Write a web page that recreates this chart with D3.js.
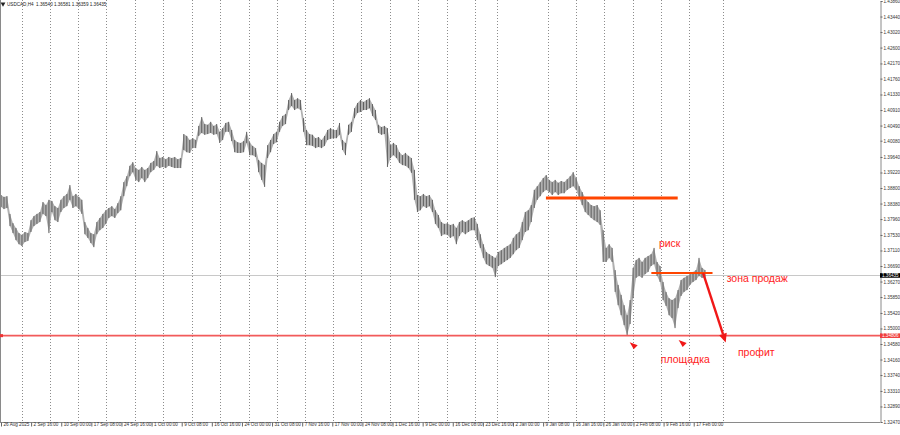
<!DOCTYPE html>
<html><head><meta charset="utf-8">
<script src="https://cdn.jsdelivr.net/npm/d3@7"></script>
<style>
html,body{margin:0;padding:0;background:#fff;}
svg{display:block;}
</style>
</head><body>
<svg id="c" width="900" height="435"></svg>
<script>
// ---------- DATA ----------
const symbolTitle = "USDCAD,H4  1.36540 1.36581 1.36359 1.36435";
const priceTicks = [1.43860,1.43440,1.43020,1.42600,1.42170,1.41760,1.41330,1.40910,1.40490,1.40080,
  1.39640,1.39220,1.38800,1.38380,1.37960,1.37530,1.37110,1.36690,1.36270,1.35850,1.35420,1.35000,
  1.34580,1.34160,1.33740,1.33310,1.32890,1.32470];
const dateLabels = ["26 Aug 2025","2 Sep 16:00","10 Sep 00:00","17 Sep 08:00","24 Sep 16:00","1 Oct 00:00",
  "9 Oct 08:00","16 Oct 16:00","24 Oct 00:00","31 Oct 08:00","7 Nov 16:00","17 Nov 00:00","24 Nov 08:00",
  "1 Dec 16:00","9 Dec 00:00","16 Dec 08:00","23 Dec 16:00","2 Jan 00:00","9 Jan 08:00","16 Jan 16:00",
  "26 Jan 00:00","2 Feb 08:00","9 Feb 16:00","17 Feb 00:00"];
const barsPerLabel = 32;
const weekBars = [22,52,82,112,142,172,203,233,263,293,323,353,383,413,443,474,504,527,581,611,641,671,701,731,767];
const lastBar = 748;
const currentPrice = 1.36435;
const targetPrice = 1.34806;

const highs = [
1.3861,1.3856,1.3858,1.3810,1.3785,1.3772,1.3758,1.3753,1.3761,1.3758,
1.3793,1.3804,1.3810,1.3815,1.3842,1.3834,1.3848,1.3845,1.3831,1.3826,
1.3848,1.3858,1.3864,1.3888,1.3858,1.3864,1.3856,1.3848,1.3788,1.3772,
1.3758,1.3755,1.3788,1.3799,1.3810,1.3820,1.3826,1.3831,1.3823,1.3839,
1.3858,1.3896,1.3912,1.3940,1.3950,1.3934,1.3929,1.3937,1.3929,1.3934,
1.3948,1.3953,1.3980,1.3961,1.3964,1.3958,1.3964,1.3961,1.3964,1.3958,
1.3961,1.4026,1.4021,1.4010,1.4015,1.4010,1.4048,1.4072,1.4053,1.4051,
1.4059,1.4048,1.4053,1.4032,1.4042,1.4056,1.4059,1.4037,1.4010,1.4004,
1.4002,1.4007,1.4032,1.4004,1.3994,1.3988,1.3956,1.3948,1.3942,1.3996,
1.4010,1.4026,1.4032,1.4059,1.4075,1.4080,1.4118,1.4137,1.4118,1.4123,
1.4118,1.4069,1.4037,1.4026,1.4024,1.4015,1.4018,1.4010,1.4021,1.4037,
1.4042,1.4037,1.4037,1.4056,1.4010,1.4002,1.4051,1.4059,1.4096,1.4110,
1.4118,1.4113,1.4118,1.4123,1.4107,1.4091,1.4051,1.4045,1.4048,1.4042,
1.3996,1.4002,1.3996,1.3977,1.3969,1.3975,1.3967,1.3961,1.3929,1.3861,
1.3858,1.3864,1.3858,1.3861,1.3848,1.3820,1.3807,1.3788,1.3783,1.3785,
1.3780,1.3783,1.3772,1.3788,1.3793,1.3788,1.3793,1.3799,1.3801,1.3783,
1.3755,1.3728,1.3707,1.3701,1.3696,1.3691,1.3707,1.3712,1.3718,1.3723,
1.3728,1.3745,1.3755,1.3761,1.3788,1.3815,1.3820,1.3834,1.3875,1.3885,
1.3896,1.3907,1.3915,1.3902,1.3896,1.3902,1.3894,1.3899,1.3896,1.3904,
1.3912,1.3923,1.3907,1.3885,1.3869,1.3853,1.3842,1.3834,1.3831,1.3834,
1.3820,1.3766,1.3718,1.3728,1.3718,1.3658,1.3618,1.3591,1.3563,1.3536,
1.3577,1.3664,1.3685,1.3691,1.3680,1.3691,1.3696,1.3701,1.3718,1.3680,
1.3669,1.3626,1.3599,1.3582,1.3577,1.3582,1.3604,1.3631,1.3637,1.3642,
1.3647,1.3653,1.3658,1.3691,1.3664,1.3658];
const lows = [
1.3829,1.3823,1.3826,1.3777,1.3758,1.3739,1.3728,1.3723,1.3734,1.3737,
1.3761,1.3777,1.3783,1.3788,1.3810,1.3804,1.3758,1.3815,1.3793,1.3788,
1.3815,1.3826,1.3831,1.3848,1.3826,1.3831,1.3823,1.3810,1.3755,1.3745,
1.3731,1.3720,1.3755,1.3766,1.3772,1.3783,1.3799,1.3804,1.3799,1.3812,
1.3820,1.3858,1.3885,1.3912,1.3923,1.3902,1.3896,1.3907,1.3896,1.3907,
1.3923,1.3929,1.3940,1.3934,1.3937,1.3934,1.3940,1.3937,1.3934,1.3934,
1.3934,1.3983,1.3977,1.3975,1.3988,1.3988,1.4021,1.4029,1.4024,1.4026,
1.4029,1.4024,1.4026,1.4002,1.4010,1.4032,1.4032,1.4007,1.3977,1.3975,
1.3975,1.3977,1.4002,1.3969,1.3969,1.3964,1.3923,1.3902,1.3883,1.3961,
1.3977,1.3999,1.4004,1.4032,1.4048,1.4053,1.4091,1.4102,1.4091,1.4096,
1.4091,1.4032,1.3996,1.3996,1.3994,1.3988,1.3991,1.3988,1.3994,1.4010,
1.4013,1.4015,1.4015,1.4024,1.3983,1.3969,1.4024,1.4032,1.4069,1.4083,
1.4086,1.4091,1.4091,1.4096,1.4075,1.4064,1.4029,1.4024,1.4026,1.3937,
1.3961,1.3969,1.3961,1.3948,1.3942,1.3940,1.3934,1.3921,1.3848,1.3815,
1.3820,1.3831,1.3826,1.3831,1.3815,1.3783,1.3772,1.3750,1.3755,1.3753,
1.3745,1.3750,1.3728,1.3750,1.3761,1.3755,1.3761,1.3766,1.3766,1.3739,
1.3718,1.3691,1.3674,1.3669,1.3664,1.3639,1.3669,1.3674,1.3680,1.3685,
1.3691,1.3701,1.3712,1.3718,1.3739,1.3761,1.3766,1.3788,1.3826,1.3848,
1.3858,1.3869,1.3875,1.3869,1.3861,1.3869,1.3861,1.3866,1.3866,1.3875,
1.3880,1.3885,1.3875,1.3853,1.3834,1.3815,1.3807,1.3799,1.3793,1.3788,
1.3780,1.3680,1.3680,1.3691,1.3680,1.3599,1.3563,1.3536,1.3509,1.3482,
1.3512,1.3582,1.3637,1.3642,1.3637,1.3647,1.3653,1.3669,1.3674,1.3642,
1.3626,1.3577,1.3561,1.3536,1.3528,1.3501,1.3555,1.3588,1.3599,1.3604,
1.3618,1.3626,1.3631,1.3642,1.3637,1.3636];

// annotation levels (price) and spans (bar index)
const riskLine = {p: 1.3853, b0: 579, b1: 719};
const entryLine = {p: 1.3650, b0: 691, b1: 756};
const arrowFrom = {b: 746, p: 1.3650};
const arrowTo = {b: 770, p: 1.3462};
const labels = [
  {t: "риск", b: 699, p: 1.3720},
  {t: "зона продаж", b: 771, p: 1.3626},
  {t: "профит", b: 783, p: 1.3426},
  {t: "площадка", b: 701, p: 1.3407}
];
const markers = [{b: 668, p: 1.3463}, {b: 720, p: 1.3469}];

// ---------- LAYOUT ----------
const W = 900, H = 435, plotR = 880, plotB = 422;
const svg = d3.select("#c");
svg.append("rect").attr("width", W).attr("height", H).attr("fill", "#fff");

const x = d3.scaleLinear().domain([0, lastBar]).range([1, 705]);
const y = d3.scaleLinear().domain([1.32470, 1.43860]).range([plotB, 1]);
const n = highs.length;
const sampleBar = i => i * lastBar / (n - 1);
const smallFont = "Liberation Sans, Arial, sans-serif";

// week grid
svg.append("g").attr("class", "grid").selectAll("line").data(weekBars).join("line")
  .attr("x1", d => Math.round(x(d)) + 0.5).attr("x2", d => Math.round(x(d)) + 0.5)
  .attr("y1", 0).attr("y2", plotB)
  .attr("stroke", "#8c8c8c").attr("stroke-width", 1).attr("stroke-dasharray", "1,2");

// current price line
svg.append("line").attr("x1", 0).attr("x2", plotR)
  .attr("y1", Math.round(y(currentPrice)) + 0.5).attr("y2", Math.round(y(currentPrice)) + 0.5)
  .attr("stroke", "#c8c8c8").attr("stroke-width", 1);

// price band
const area = d3.area().x((d, i) => x(sampleBar(i))).y0((d, i) => y(lows[i])).y1(d => y(d));
svg.append("path").datum(highs).attr("d", area).attr("fill", "#b0b0b0");
svg.append("g").attr("class", "bars").selectAll("line").data(highs).join("line")
  .attr("x1", (d, i) => x(sampleBar(i))).attr("x2", (d, i) => x(sampleBar(i)))
  .attr("y1", d => y(d)).attr("y2", (d, i) => y(lows[i]))
  .attr("stroke", "#606060").attr("stroke-width", 1);

// frame
svg.append("line").attr("x1", 0.5).attr("x2", 0.5).attr("y1", 0).attr("y2", plotB).attr("stroke", "#8a8a8a");
svg.append("line").attr("x1", 0).attr("x2", plotR).attr("y1", plotB + 0.5).attr("y2", plotB + 0.5).attr("stroke", "#8a8a8a");

// right price axis
const yAxis = svg.append("g").attr("transform", `translate(${plotR + 0.5},0)`)
  .call(d3.axisRight(y).tickValues(priceTicks).tickSize(2).tickPadding(1).tickFormat(d3.format(".5f")));
yAxis.select(".domain").attr("stroke", "#8a8a8a");
yAxis.selectAll(".tick line").attr("stroke", "#666");
yAxis.selectAll("text").attr("font-size", 4.6).attr("font-family", smallFont).attr("fill", "#333");

// bottom date axis
const xAxis = svg.append("g").attr("transform", `translate(0,${plotB + 0.5})`)
  .call(d3.axisBottom(x).tickValues(dateLabels.map((d, i) => i * barsPerLabel))
    .tickSize(4).tickFormat((d, i) => dateLabels[i]));
xAxis.select(".domain").remove();
xAxis.selectAll(".tick line").attr("stroke", "#666");
xAxis.selectAll("text").attr("font-size", 4.6).attr("font-family", smallFont).attr("fill", "#333")
  .attr("text-anchor", "start").attr("dx", 2).attr("dy", 0).attr("y", 3.5);

// title
svg.append("path").attr("d", d3.symbol(d3.symbolTriangle, 10)()).attr("transform", "translate(3,4) rotate(180)").attr("fill", "#222");
svg.append("text").attr("x", 7).attr("y", 5.6).text(symbolTitle)
  .attr("font-size", 4.6).attr("font-family", smallFont).attr("fill", "#222").attr("xml:space", "preserve");

// target (red) horizontal line
const yT = y(targetPrice);
svg.append("line").attr("x1", 0).attr("x2", plotR).attr("y1", yT).attr("y2", yT)
  .attr("stroke", "#f25a5a").attr("stroke-width", 1.6);
svg.append("rect").attr("x", 0).attr("y", yT - 1.5).attr("width", 3).attr("height", 3).attr("fill", "#e33");
svg.append("rect").attr("x", plotR).attr("y", yT - 2.3).attr("width", 20).attr("height", 4.6).attr("fill", "#f03c3c");
svg.append("text").attr("x", plotR + 2).attr("y", yT + 1.6).text(d3.format(".5f")(targetPrice))
  .attr("font-size", 4.6).attr("font-family", smallFont).attr("fill", "#fff");

// current price box
const yC = y(currentPrice);
svg.append("rect").attr("x", plotR).attr("y", yC - 2.3).attr("width", 20).attr("height", 4.6).attr("fill", "#000");
svg.append("text").attr("x", plotR + 2).attr("y", yC + 1.6).text(d3.format(".5f")(currentPrice))
  .attr("font-size", 4.6).attr("font-family", smallFont).attr("fill", "#fff");

// annotation lines
svg.append("line").attr("x1", x(riskLine.b0)).attr("x2", x(riskLine.b1))
  .attr("y1", y(riskLine.p)).attr("y2", y(riskLine.p)).attr("stroke", "#ff4500").attr("stroke-width", 2.8);
svg.append("line").attr("x1", x(entryLine.b0)).attr("x2", x(entryLine.b1))
  .attr("y1", y(entryLine.p)).attr("y2", y(entryLine.p)).attr("stroke", "#ff4500").attr("stroke-width", 2);

// arrow
const ax0 = x(arrowFrom.b), ay0 = y(arrowFrom.p), ax1 = x(arrowTo.b), ay1 = y(arrowTo.p);
const ang = Math.atan2(ay1 - ay0, ax1 - ax0);
const hl = 9, hw = 4;
const bx = ax1 - hl * Math.cos(ang), by = ay1 - hl * Math.sin(ang);
svg.append("line").attr("x1", ax0).attr("y1", ay0).attr("x2", bx).attr("y2", by)
  .attr("stroke", "#f01818").attr("stroke-width", 2.4);
svg.append("path").attr("d", `M${ax1},${ay1}L${bx + hw * Math.sin(ang)},${by - hw * Math.cos(ang)}L${bx - hw * Math.sin(ang)},${by + hw * Math.cos(ang)}Z`)
  .attr("fill", "#f01818");

// small arrow markers
svg.append("g").selectAll("path").data(markers).join("path")
  .attr("d", d => { const mx = x(d.b), my = y(d.p); return `M${mx},${my}L${mx + 8},${my + 3}L${mx + 4},${my + 7}Z`; })
  .attr("fill", "#f01818");

// annotation texts
svg.append("g").selectAll("text").data(labels).join("text")
  .attr("x", d => x(d.b)).attr("y", d => y(d.p)).text(d => d.t)
  .attr("font-size", 10.5).attr("font-family", "Liberation Sans, Arial, sans-serif").attr("fill", "#f22");
</script>
</body></html>
